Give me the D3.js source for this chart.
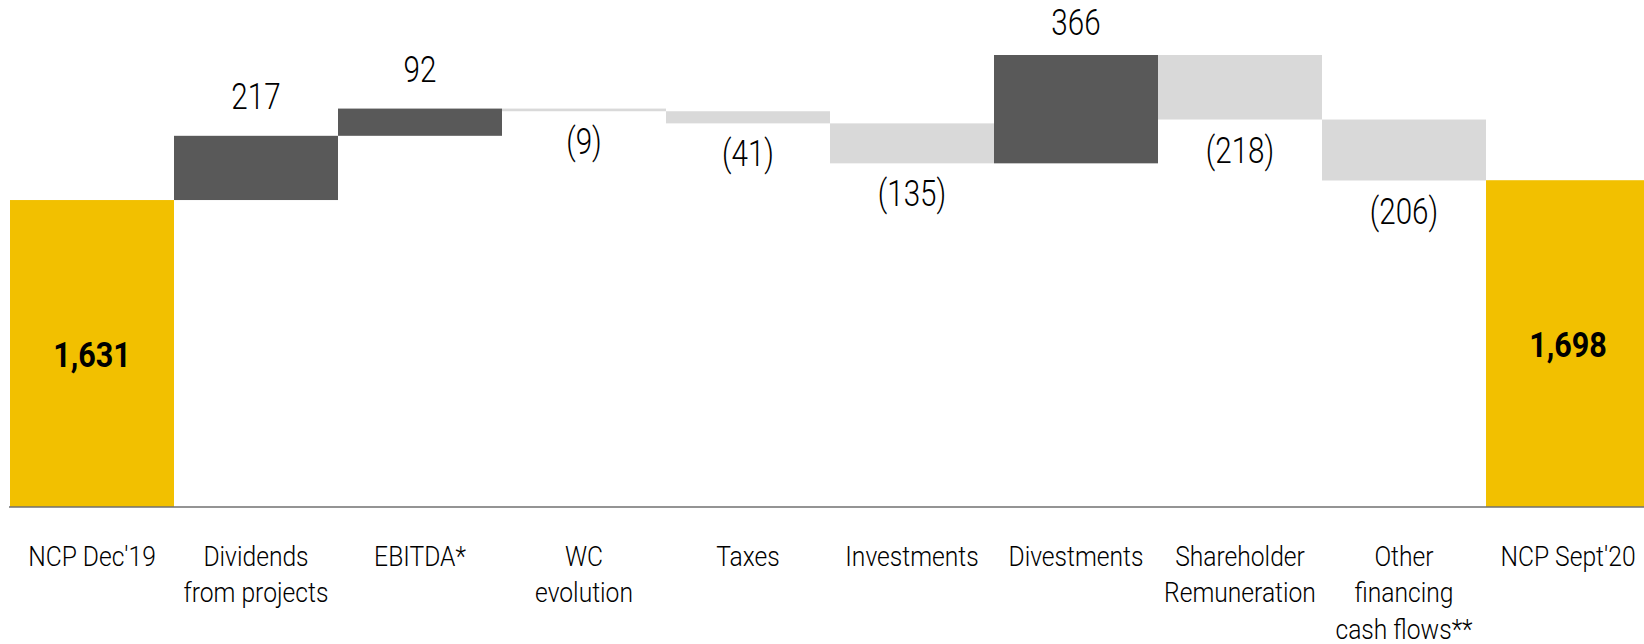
<!DOCTYPE html>
<html>
<head>
<meta charset="utf-8">
<script src="https://cdn.jsdelivr.net/npm/d3@7"></script>
<style>
  body { margin: 0; background: #fff; }
  text { font-family: Roboto, "DejaVu Sans", sans-serif; fill: #000; }
</style>
</head>
<body>
<div id="chart"></div>
<script>
// data
var categories = ["start", "dividends", "ebitda", "wc", "taxes", "investments",
                  "divestments", "shareholder", "other", "end"];
var categoryLabels = [
  ["NCP Dec'19"],
  ["Dividends", "from projects"],
  ["EBITDA*"],
  ["WC", "evolution"],
  ["Taxes"],
  ["Investments"],
  ["Divestments"],
  ["Shareholder", "Remuneration"],
  ["Other", "financing", "cash flows**"],
  ["NCP Sept'20"]
];
var startValue = 1631;
var endValue = 1698;
var changes = [217, 92, -9, -41, -135, 366, -218, -206];

var svgWidth = 1644;
var svgHeight = 644;

var svg = d3.select("#chart")
  .append("svg")
  .attr("width", svgWidth)
  .attr("height", svgHeight);

// build the waterfall steps
var steps = [];
var running = startValue;
steps.push({ key: categories[0], from: null, to: startValue, type: "total", value: startValue });
changes.forEach(function(c, i) {
  var from = running;
  running = running + c;
  steps.push({ key: categories[i + 1], from: from, to: running, type: c >= 0 ? "up" : "down", value: c });
});
steps.push({ key: categories[categories.length - 1], from: null, to: endValue, type: "total", value: endValue });

var x = d3.scaleBand()
  .domain(categories)
  .range([10, 1650])
  .padding(0);

// axis does not start at zero in the original
var y = d3.scaleLinear()
  .domain([594, 2121])
  .range([507, 55]);

var base = y(y.domain()[0]);
var colors = { total: "#F2C000", up: "#595959", down: "#D9D9D9" };

var barGroup = svg.append("g");

barGroup.selectAll("rect")
  .data(steps)
  .enter()
  .append("rect")
  .attr("x", d => x(d.key))
  .attr("width", x.bandwidth())
  .attr("y", d => d.type === "total" ? y(d.to) : y(Math.max(d.from, d.to)))
  .attr("height", d => d.type === "total" ? base - y(d.to) : Math.abs(y(d.from) - y(d.to)))
  .attr("fill", d => colors[d.type]);

// value labels (the original face is narrow, so squeeze Roboto a bit)
var fmtTotal = d3.format(",");
var labelGroup = svg.append("g");

labelGroup.selectAll("text")
  .data(steps)
  .enter()
  .append("text")
  .attr("text-anchor", "middle")
  .attr("transform", function(d) {
    var cx = x(d.key) + x.bandwidth() / 2;
    var cy;
    if (d.type === "total") cy = (y(d.to) + base) / 2 + 13;
    else if (d.type === "up") cy = Math.max(y(d.to) - 27, 35);
    else cy = y(d.to) + 43;
    var sx = d.type === "total" ? 0.85 : 0.8;
    return `translate(${cx},${cy}) scale(${sx},1)`;
  })
  .style("font-size", d => d.type === "total" ? "36px" : "37px")
  .style("font-weight", d => d.type === "total" ? "bold" : "300")
  .text(function(d) {
    if (d.type === "total") return fmtTotal(d.value);
    if (d.value < 0) return "(" + Math.abs(d.value) + ")";
    return d.value;
  });

// baseline
svg.append("line")
  .attr("x1", 9)
  .attr("x2", svgWidth)
  .attr("y1", base)
  .attr("y2", base)
  .attr("stroke", "#707070")
  .attr("stroke-width", 1.6);

// category labels
var catGroup = svg.append("g");
categoryLabels.forEach(function(lines, i) {
  var cx = x(categories[i]) + x.bandwidth() / 2;
  var t = catGroup.append("text")
    .attr("text-anchor", "middle")
    .attr("transform", `translate(${cx},566) scale(0.88,1)`)
    .style("font-size", "28px")
    .style("font-weight", "300");
  lines.forEach(function(line, j) {
    t.append("tspan")
      .attr("x", 0)
      .attr("dy", j === 0 ? 0 : 36.5)
      .text(line);
  });
});
</script>
</body>
</html>
